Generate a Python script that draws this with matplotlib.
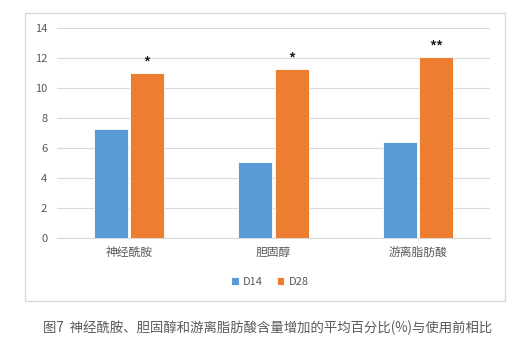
import matplotlib
matplotlib.use('Agg')
import matplotlib.pyplot as plt
import matplotlib.patches as mpatches
import numpy as np

plt.rcParams['font.family'] = ['Noto Sans CJK SC', 'DejaVu Sans']

categories = ['神经酰胺', '胆固醇', '游离脂肪酸']
d14 = [7.3, 5.1, 6.4]
d28 = [11.0, 11.3, 12.1]
marks = ['*', '*', '**']

blue = '#5b9bd5'
orange = '#ed7d31'
grey = '#595959'

fig = plt.figure(figsize=(5.21, 3.46), dpi=100)
# outer chart frame
fig.patches.append(mpatches.Rectangle((25/521, 1-301/346), 480/521, 288/346,
                                      transform=fig.transFigure, fill=False,
                                      edgecolor='#d9d9d9', linewidth=1))
ax = fig.add_axes([57/521, 1-238/346, 433/521, 210/346])

x = np.arange(len(categories))
w = 0.235
ax.bar(x - w/2 - 0.008, d14, w, color=blue, edgecolor='white', linewidth=0.6, label='D14', zorder=3)
ax.bar(x + w/2 + 0.008, d28, w, color=orange, edgecolor='white', linewidth=0.6, label='D28', zorder=3)
for xi, v, m in zip(x, d28, marks):
    ax.text(xi + w/2 + 0.008, v + 0.2, m, ha='center', va='bottom', fontsize=10,
            color='#222222', fontweight='bold')

ax.set_xlim(-0.5, 2.5)
ax.set_ylim(0, 14)
ax.set_yticks(range(0, 15, 2))
ax.grid(axis='y', color='#d9d9d9', linewidth=0.8, zorder=0)
for s in ['top', 'right', 'left']:
    ax.spines[s].set_visible(False)
ax.spines['bottom'].set_color('#d9d9d9')
ax.tick_params(axis='both', length=0, colors=grey, labelsize=8)
ax.tick_params(axis='y', pad=7)
ax.tick_params(axis='x', pad=6)
ax.set_xticks(x)
ax.set_xticklabels(categories, fontsize=8.5)

fig.legend(loc='center', bbox_to_anchor=(270/521, 1-282/346), ncol=2, frameon=False,
           fontsize=8, handlelength=0.7, handleheight=0.7, columnspacing=1.2,
           handletextpad=0.4, labelcolor=grey)

fig.text(268/521, 1-328/346, '图7  神经酰胺、胆固醇和游离脂肪酸含量增加的平均百分比(%)与使用前相比',
         ha='center', va='center', fontsize=9.6, color=grey)

fig.savefig('out.png', dpi=100)
